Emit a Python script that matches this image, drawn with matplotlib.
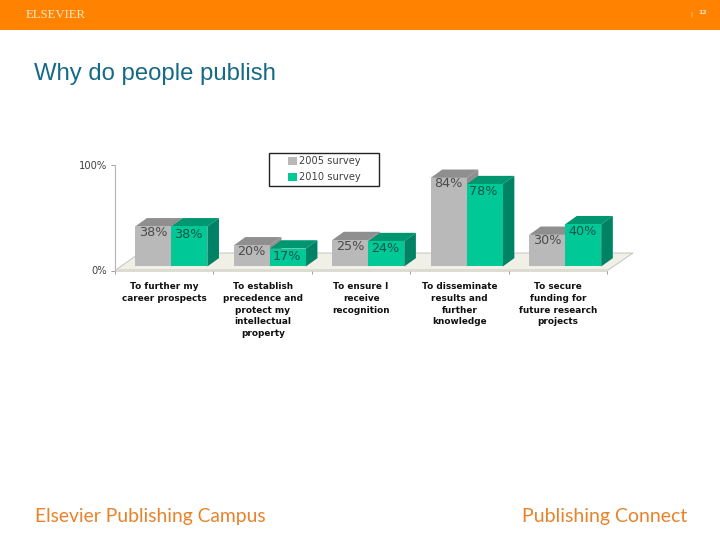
import matplotlib
matplotlib.use('Agg')
import matplotlib.pyplot as plt
from matplotlib.patches import Polygon, Rectangle

categories = ['To further my\ncareer prospects',
              'To establish\nprecedence and\nprotect my\nintellectual\nproperty',
              'To ensure I\nreceive\nrecognition',
              'To disseminate\nresults and\nfurther\nknowledge',
              'To secure\nfunding for\nfuture research\nprojects']
survey_2005 = [38, 20, 25, 84, 30]
survey_2010 = [38, 17, 24, 78, 40]
series_names = ['2005 survey', '2010 survey']

W, H = 720, 540
GRAY, GRAY_TOP, GRAY_SIDE = '#b9b9b9', '#8f8f8f', '#8f8f8f'
GREEN, GREEN_TOP, GREEN_SIDE = '#00c896', '#009670', '#008264'
ORANGE = '#ff8200'

fig = plt.figure(figsize=(7.2, 5.4), dpi=100, facecolor='white')

# page furniture, in pixel coordinates
bg = fig.add_axes([0, 0, 1, 1])
bg.set_xlim(0, W)
bg.set_ylim(H, 0)
bg.axis('off')
bg.add_patch(Rectangle((0, 0), W, 29.5, color=ORANGE, lw=0))
bg.text(26, 15, 'ELSEVIER', family='Liberation Serif', fontsize=9.2, color='#ffe6c0', va='center')
bg.text(691, 14, '|', fontsize=4.5, color='#ffe6c0', ha='center', va='center')
bg.text(702.5, 13, '12', fontsize=4.5, weight='bold', color='#ffe6c0', ha='center', va='center')
bg.text(33.5, 80, 'Why do people publish', family='Liberation Sans', fontsize=17.2, color='#156a85', va='baseline')
bg.text(35, 522, 'Elsevier Publishing Campus', family='Lato', fontsize=13.9, color='#e8832a', va='baseline')
bg.text(687.5, 522, 'Publishing Connect', family='Lato', fontsize=14, color='#e8832a', va='baseline', ha='right')

# floor of the 3d chart
bg.add_patch(Polygon([(115, 270.5), (140, 253), (633, 253), (607.5, 270.5)], closed=True,
                     facecolor='#f0f0e6', edgecolor='#c4c4c4', lw=0.7))
bg.add_patch(Rectangle((115, 269), 492.5, 3, color='#dcdcd2', lw=0))

# legend box
bg.add_patch(Rectangle((269.3, 153), 110, 33, facecolor='white', edgecolor='#222222', lw=1))

# chart axes: 0% at y=270.5 px, 100% at y=165 px
left, right, bottom, top = 115, 607.3, 270.5, 165
ax = fig.add_axes([left / W, 1 - bottom / H, (right - left) / W, (bottom - top) / H])
ax.patch.set_visible(False)
ax.set_xlim(0, 5)
ax.set_ylim(0, 100)

floor = 3.8
width = 0.366
shift = 0.072
dx = 0.118
dy = 7.9


def draw_bars(values, offset, color, top_color, side_color):
    for i, v in enumerate(values):
        x0 = i + 0.5 + shift + offset - width / 2
        x1 = x0 + width
        y1 = floor + v
        ax.add_patch(Polygon([(x0, y1), (x0 + dx, y1 + dy), (x1 + dx, y1 + dy), (x1, y1)],
                             closed=True, facecolor=top_color, edgecolor='none', clip_on=False, zorder=2))
        ax.add_patch(Polygon([(x1, floor), (x1 + dx, floor + dy), (x1 + dx, y1 + dy), (x1, y1)],
                             closed=True, facecolor=side_color, edgecolor='none', clip_on=False, zorder=2))
    xs = [i + 0.5 + shift + offset for i in range(len(values))]
    return ax.bar(xs, values, width=width, bottom=floor, color=color, zorder=3, clip_on=False)


bars_2005 = draw_bars(survey_2005, -width / 2, GRAY, GRAY_TOP, GRAY_SIDE)
bars_2010 = draw_bars(survey_2010, width / 2, GREEN, GREEN_TOP, GREEN_SIDE)

for i, v in enumerate(survey_2005):
    ax.text(i + 0.5 + shift - width / 2, floor + v - 5.7, f'{v}%', ha='center', va='center',
            fontsize=9.2, color='#4a4a4a', zorder=5)
for i, v in enumerate(survey_2010):
    ax.text(i + 0.5 + shift + width / 2 - 0.01, floor + v - 7.3, f'{v}%', ha='center', va='center',
            fontsize=9.2, color='#12564a', zorder=5)

for s in ['top', 'right', 'bottom']:
    ax.spines[s].set_visible(False)
ax.spines['left'].set_color('#b5b5b5')
ax.spines['left'].set_linewidth(0.8)

ax.set_yticks([0, 100])
ax.set_yticklabels(['0%', '100%'], fontsize=7.2, color='#404040')
ax.tick_params(axis='y', length=3, width=0.7, color='#a0a0a0', pad=3)
ax.set_xticks(range(6))
ax.set_xticklabels([])
ax.tick_params(axis='x', which='major', length=2.5, width=0.7, color='#a0a0a0', direction='out')
ax.set_xticks([i + 0.5 for i in range(5)], minor=True)
ax.set_xticklabels(categories, minor=True, fontsize=6.4, weight='bold', color='#111111', linespacing=1.38)
ax.tick_params(axis='x', which='minor', length=0, pad=8.5)

leg = ax.legend([bars_2005, bars_2010], series_names, loc='upper left',
                bbox_to_anchor=((285 - left) / (right - left), (bottom - 153) / (bottom - top)),
                borderaxespad=0, frameon=False,
                fontsize=7.1, labelcolor='#404040', handlelength=0.9, handleheight=0.9,
                handletextpad=0.15, labelspacing=0.6, borderpad=0.35)
leg.set_zorder(6)

fig.savefig('out.png', dpi=100)
